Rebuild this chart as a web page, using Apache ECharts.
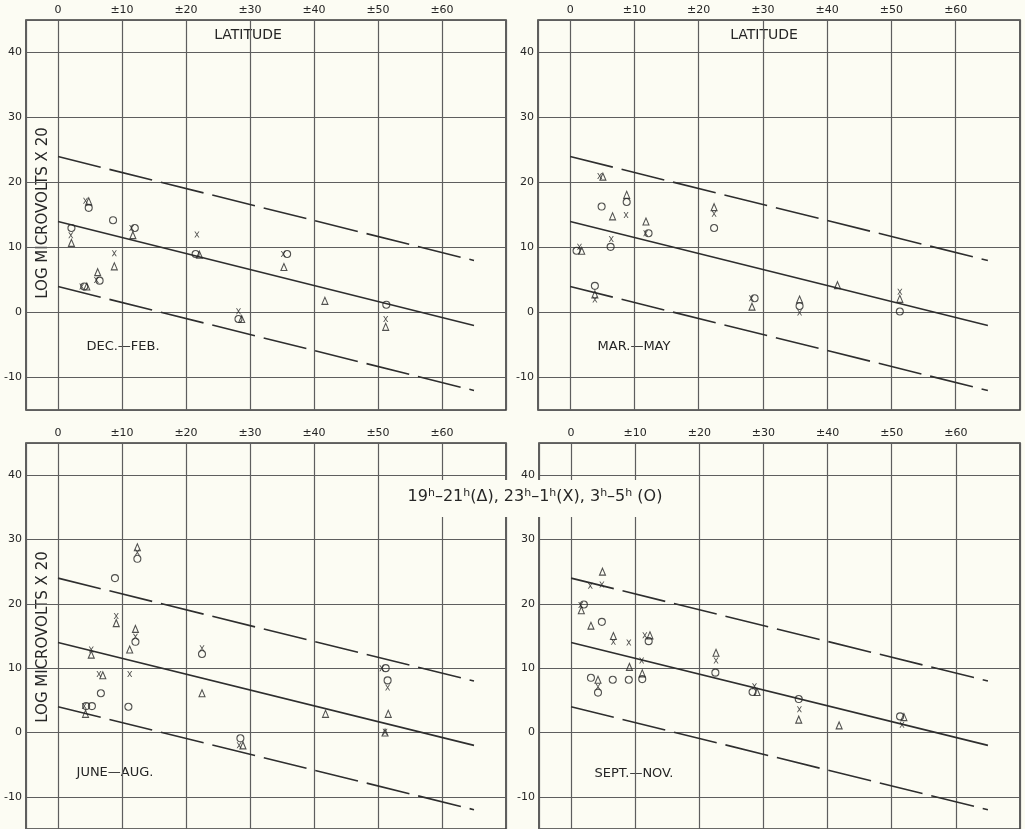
<!DOCTYPE html>
<html>
<head>
<meta charset="utf-8">
<script src="https://cdn.jsdelivr.net/npm/echarts@6/dist/echarts.min.js"></script>
<style>
  html, body { margin: 0; padding: 0; background: #fcfcf3; }
  #chart { width: 1025px; height: 829px; }
</style>
</head>
<body>
<div id="chart"></div>
<script>
// axis ticks
const latTicks = [0, 10, 20, 30, 40, 50, 60];
const levelTicks = [-10, 0, 10, 20, 30, 40];

// the three reference lines (latitude 0 -> 65)
const fitLat = [0, 65];
const upperFit = [24, 8];
const middleFit = [14, -2];
const lowerFit = [4, -12];

const seasons = ['DEC.—FEB.', 'MAR.—MAY', 'JUNE—AUG.', 'SEPT.—NOV.'];

// DEC.-FEB.  [latitude, log microvolts x 20]
const decFebTri = [[2.1, 10.7], [4.8, 17.1], [4.5, 4.0], [6.2, 6.2], [8.8, 7.1], [11.7, 11.9], [22.1, 8.9], [28.7, -1.0], [35.3, 7.0], [41.7, 1.8], [51.2, -2.2]];
const decFebX = [[2.0, 11.9], [4.3, 17.2], [3.7, 4.0], [6.0, 5.0], [8.8, 9.1], [11.5, 13.0], [21.7, 12.0], [28.2, 0.2], [35.2, 9.0], [51.2, -1.0]];
const decFebO = [[2.1, 13.0], [4.8, 16.1], [4.1, 4.0], [6.5, 4.9], [8.6, 14.2], [12.0, 13.0], [21.5, 9.0], [28.2, -1.0], [35.8, 9.0], [51.3, 1.2]];

// MAR.-MAY
const marMayTri = [[1.8, 9.5], [5.1, 20.9], [3.85, 2.8], [6.6, 14.8], [8.8, 18.1], [11.8, 14.0], [22.4, 16.2], [28.3, 0.9], [35.7, 2.0], [41.6, 4.2], [51.3, 2.1]];
const marMayX = [[1.45, 10.1], [4.6, 21.0], [3.85, 2.0], [6.4, 11.3], [8.7, 15.0], [11.75, 12.2], [22.4, 15.2], [28.2, 2.2], [35.7, 0.0], [51.3, 3.2]];
const marMayO = [[1.0, 9.5], [4.9, 16.3], [3.85, 4.1], [6.3, 10.1], [8.8, 17.0], [12.2, 12.2], [22.4, 13.0], [28.7, 2.2], [35.7, 1.0], [51.3, 0.15]];

// JUNE-AUG.
const junAugTri = [[4.3, 2.9], [5.2, 12.1], [7.0, 8.9], [9.1, 17.0], [11.2, 12.9], [12.1, 16.1], [12.4, 28.8], [22.5, 6.1], [28.9, -2.0], [41.8, 2.9], [51.6, 2.9], [51.1, 0.0]];
const junAugX = [[4.1, 4.1], [5.2, 12.9], [6.4, 9.1], [9.1, 18.1], [11.2, 9.1], [12.1, 14.9], [12.4, 28.0], [22.5, 13.1], [28.3, -2.0], [50.6, 10.0], [51.5, 7.0], [51.1, 0.1]];
const junAugO = [[4.4, 4.1], [5.3, 4.1], [6.7, 6.1], [8.9, 24.0], [11.0, 4.0], [12.1, 14.1], [12.4, 27.0], [22.5, 12.2], [28.5, -0.9], [51.2, 10.0], [51.5, 8.1]];

// SEPT.-NOV.
const sepNovTri = [[1.6, 19.0], [3.1, 16.6], [4.2, 8.2], [4.9, 25.0], [6.6, 15.0], [9.1, 10.2], [11.1, 9.2], [12.3, 15.1], [22.6, 12.4], [29.0, 6.3], [35.5, 2.0], [41.8, 1.1], [51.9, 2.4]];
const sepNovX = [[1.5, 19.8], [3.0, 22.8], [4.2, 7.1], [4.8, 23.0], [6.6, 14.1], [9.0, 14.0], [11.0, 11.2], [11.5, 15.1], [22.6, 11.2], [28.6, 7.2], [35.6, 3.6], [51.6, 1.2]];
const sepNovO = [[2.0, 19.9], [3.1, 8.5], [4.2, 6.2], [4.8, 17.2], [6.5, 8.2], [9.0, 8.2], [11.1, 8.3], [12.1, 14.2], [22.5, 9.3], [28.3, 6.3], [35.5, 5.2], [51.3, 2.5]];

const panelData = [
  [decFebTri, decFebX, decFebO],
  [marMayTri, marMayX, marMayO],
  [junAugTri, junAugX, junAugO],
  [sepNovTri, sepNovX, sepNovO]
];

const BG = '#fcfcf3';
const INK = '#262626';
const GRIDLINE = '#5e5e5e';
const LINE = '#2e2e2e';
const crossPath = 'path://M0,0L2,0L5,4L8,0L10,0L6,5.5L10,11L8,11L5,7L2,11L0,11L4,5.5Z';
const textFont = '"DejaVu Sans", "Liberation Sans", sans-serif';

const grids = [
  { left: 26, top: 20, width: 480, height: 390 },
  { left: 538, top: 20, width: 482, height: 390 },
  { left: 26, top: 443, width: 480, height: 393 },
  { left: 539, top: 443, width: 481, height: 393 }
].map(g => Object.assign(g, { show: true, borderColor: '#3a3a3a', borderWidth: 1.6, backgroundColor: 'transparent' }));

const xAxes = grids.map((g, i) => ({
  gridIndex: i,
  type: 'value',
  position: 'top',
  min: -5,
  max: 70,
  splitNumber: 8,
  axisLine: { show: false },
  axisTick: { show: false },
  axisLabel: {
    margin: 4,
    fontSize: 11,
    color: INK,
    fontFamily: textFont,
    formatter: v => latTicks.includes(v) ? (v === 0 ? '0' : '±' + v) : ''
  },
  splitLine: { show: true, lineStyle: { color: GRIDLINE, width: 1.2 } }
}));

const yAxes = grids.map((g, i) => ({
  gridIndex: i,
  type: 'value',
  min: -15,
  max: 45,
  splitNumber: 6,
  axisLine: { show: false },
  axisTick: { show: false },
  axisLabel: {
    margin: 4,
    fontSize: 11,
    color: INK,
    fontFamily: textFont,
    formatter: v => levelTicks.includes(v) ? String(v) : ''
  },
  splitLine: { show: true, lineStyle: { color: GRIDLINE, width: 1.2 } }
}));

const series = [];
panelData.forEach((sets, i) => {
  const lineBase = {
    type: 'line',
    xAxisIndex: i,
    yAxisIndex: i,
    showSymbol: false,
    silent: true,
    z: 3
  };
  series.push(Object.assign({}, lineBase, {
    data: fitLat.map((x, k) => [x, upperFit[k]]),
    lineStyle: { color: LINE, width: 1.6, type: [44, 9] }
  }));
  series.push(Object.assign({}, lineBase, {
    data: fitLat.map((x, k) => [x, middleFit[k]]),
    lineStyle: { color: LINE, width: 1.6 }
  }));
  series.push(Object.assign({}, lineBase, {
    data: fitLat.map((x, k) => [x, lowerFit[k]]),
    lineStyle: { color: LINE, width: 1.6, type: [44, 9] }
  }));
  series.push({
    type: 'scatter', xAxisIndex: i, yAxisIndex: i, z: 4,
    symbol: 'triangle', symbolSize: [6, 7],
    itemStyle: { color: 'transparent', borderColor: INK, borderWidth: 1.1 },
    data: sets[0]
  });
  series.push({
    type: 'scatter', xAxisIndex: i, yAxisIndex: i, z: 4,
    symbol: crossPath, symbolSize: [5, 6],
    itemStyle: { color: INK },
    data: sets[1]
  });
  series.push({
    type: 'scatter', xAxisIndex: i, yAxisIndex: i, z: 4,
    symbol: 'circle', symbolSize: 7,
    itemStyle: { color: 'transparent', borderColor: INK, borderWidth: 1.1 },
    data: sets[2]
  });
});

const labelStyle = (size) => ({ fill: INK, font: size + 'px ' + textFont, align: 'center', verticalAlign: 'middle' });

const graphic = [
  { type: 'text', x: 248, y: 35, style: Object.assign({ text: 'LATITUDE' }, labelStyle(14)) },
  { type: 'text', x: 764, y: 35, style: Object.assign({ text: 'LATITUDE' }, labelStyle(14)) },
  { type: 'text', x: 123, y: 347, style: Object.assign({ text: seasons[0] }, labelStyle(13)) },
  { type: 'text', x: 634, y: 347, style: Object.assign({ text: seasons[1] }, labelStyle(13)) },
  { type: 'text', x: 115, y: 773, style: Object.assign({ text: seasons[2] }, labelStyle(13)) },
  { type: 'text', x: 634, y: 774, style: Object.assign({ text: seasons[3] }, labelStyle(13)) },
  { type: 'text', x: 43, y: 213, rotation: Math.PI / 2, style: Object.assign({ text: 'LOG MICROVOLTS X 20' }, labelStyle(15)) },
  { type: 'text', x: 43, y: 637, rotation: Math.PI / 2, style: Object.assign({ text: 'LOG MICROVOLTS X 20' }, labelStyle(15)) },
  { type: 'rect', z: 100, shape: { x: 396, y: 480, width: 276, height: 37 }, style: { fill: BG } },
  {
    type: 'text', z: 101, x: 535, y: 497,
    style: {
      text: '19{s|h}–21{s|h}(Δ), 23{s|h}–1{s|h}(X), 3{s|h}–5{s|h} (O)',
      font: '16px ' + textFont,
      fill: INK,
      align: 'center',
      verticalAlign: 'middle',
      rich: {
        s: { fontSize: 11, fontFamily: textFont, fill: INK, verticalAlign: 'top', padding: [0, 0, 7, 0] }
      }
    }
  }
];

const chart = echarts.init(document.getElementById('chart'));
chart.setOption({
  backgroundColor: BG,
  animation: false,
  textStyle: { fontFamily: textFont },
  grid: grids,
  xAxis: xAxes,
  yAxis: yAxes,
  series: series,
  graphic: graphic
});
</script>
</body>
</html>
